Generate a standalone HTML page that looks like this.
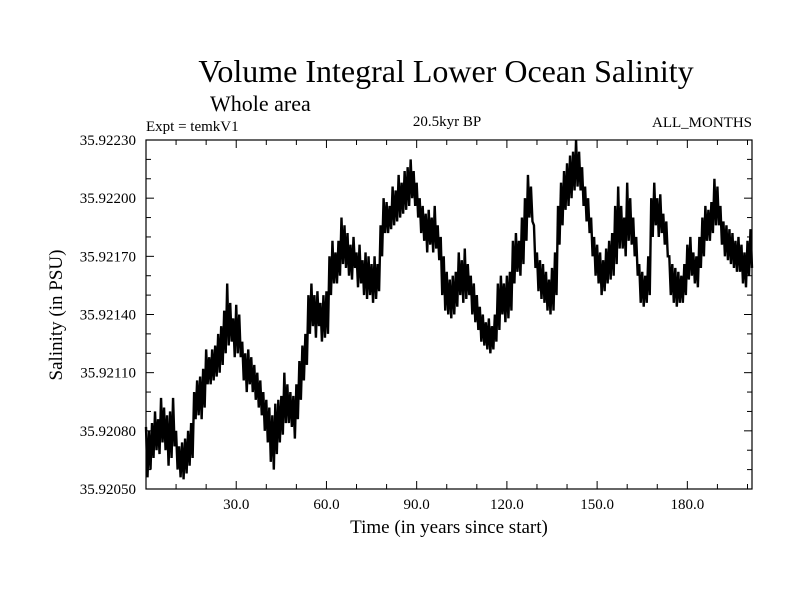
<!DOCTYPE html>
<html><head><meta charset="utf-8"><style>
body{margin:0;background:#fff}
svg text{font-family:"Liberation Serif",serif;fill:#000}
</style></head><body>
<svg id="chart" width="800" height="600">
<rect width="800" height="600" fill="#fff"/>
<text x="446" y="82" font-size="32" text-anchor="middle">Volume Integral Lower Ocean Salinity</text>
<text x="210" y="111" font-size="22">Whole area</text>
<text x="146" y="131" font-size="15">Expt = temkV1</text>
<text x="447" y="126" font-size="15" text-anchor="middle">20.5kyr BP</text>
<text x="752" y="127" font-size="15" text-anchor="end">ALL_MONTHS</text>
<text x="449" y="533" font-size="19" text-anchor="middle">Time (in years since start)</text>
<text transform="translate(62,315) rotate(-90)" font-size="19" text-anchor="middle">Salinity (in PSU)</text>
<g id="ticks"></g>
<path id="series" fill="none" stroke="#000" stroke-width="2.4" stroke-linejoin="miter"/>
<rect x="146" y="140" width="606" height="349" fill="none" stroke="#000" stroke-width="1.2"/>
</svg>
<script>
const baseSalinity = 35.92;
const salHiAnom = [82,80,84,90,86,97,92,88,90,97,80,72,74,76,80,84,100,106,108,112,122,118,122,124,130,134,142,156,146,138,145,140,126,120,122,118,114,110,106,100,96,92,88,94,96,98,110,104,100,98,104,116,124,130,150,156,150,152,146,150,152,170,178,172,178,190,186,182,176,180,172,176,168,172,170,166,170,166,186,200,198,196,206,204,212,208,214,216,220,214,208,200,196,192,194,190,196,186,180,170,162,158,160,162,172,168,174,166,160,156,150,144,140,136,138,134,140,156,160,156,160,162,178,182,178,190,200,212,206,186,172,168,166,162,158,164,172,196,208,214,218,222,224,230,224,216,206,200,190,180,176,172,168,174,178,182,196,206,196,190,208,200,190,180,166,162,160,170,200,208,200,202,192,188,170,166,164,162,160,166,176,180,172,170,180,190,196,194,198,210,206,196,188,186,184,182,178,180,176,172,178,184];
const salLoAnom = [56,60,66,70,68,74,70,62,66,72,60,56,55,58,62,66,86,88,86,92,104,104,106,108,110,114,120,124,126,118,120,118,106,100,104,100,96,92,88,80,74,64,60,68,74,78,84,84,82,76,86,96,106,114,130,134,128,134,126,128,130,150,156,156,160,166,164,160,158,164,154,156,150,148,150,146,148,152,170,182,182,184,186,188,190,192,194,196,200,196,190,182,178,172,176,172,174,168,150,142,140,138,140,144,150,146,148,150,140,136,132,126,124,122,120,122,126,132,140,136,138,142,156,162,160,166,178,190,188,164,152,148,146,142,140,142,150,176,186,194,196,200,204,206,204,196,188,182,170,160,156,150,152,156,158,160,166,174,174,170,178,176,170,160,146,144,146,150,180,186,180,182,176,170,150,146,144,146,146,150,158,160,156,154,164,170,178,178,182,186,186,176,170,168,166,164,162,162,156,154,160,164];
const xTickLabels = ["30.0","60.0","90.0","120.0","150.0","180.0"];
const yTickLabels = ["35.92050","35.92080","35.92110","35.92140","35.92170","35.92200","35.92230"];

const X0=146,X1=752,Y0=489,Y1=140, XMAX=201.5, YMIN=35.9205, YMAX=35.9223;
const xs = t => X0 + (t/XMAX)*(X1-X0);
const ys = v => Y0 - (v-YMIN)/(YMAX-YMIN)*(Y0-Y1);
const NS="http://www.w3.org/2000/svg";
const tg=document.getElementById('ticks');
function line(x1,y1,x2,y2){const l=document.createElementNS(NS,'line');l.setAttribute('x1',x1);l.setAttribute('y1',y1);l.setAttribute('x2',x2);l.setAttribute('y2',y2);l.setAttribute('stroke','#000');l.setAttribute('stroke-width','1');


tg.appendChild(l);}
function txt(x,y,s,anchor){const t=document.createElementNS(NS,'text');t.setAttribute('x',x);t.setAttribute('y',y);t.setAttribute('font-size','15');t.setAttribute('text-anchor',anchor);t.textContent=s;


tg.appendChild(t);}
for(let t=10;t<XMAX;t+=10){const x=xs(t);const L=(t%30===0)?8:5;line(x,Y0,x,Y0-L);line(x,Y1,x,Y1+L);}
xTickLabels.forEach(s=>{const x=xs(parseFloat(s));txt(x,509,s,'middle');});
for(let i=0;i<=18;i++){const v=YMIN+i*0.0001;const y=ys(v);const L=(i%3===0)?8:5;line(X0,y,X0+L,y);line(X1,y,X1-L,y);}
yTickLabels.forEach(s=>{const y=ys(parseFloat(s));txt(136,y+5,s,'end');});
let d='';
for(let i=0;i<salHiAnom.length;i++){
  const t=Math.min(i,XMAX);
  const h=baseSalinity+salHiAnom[i]*1e-5, l=baseSalinity+salLoAnom[i]*1e-5;
  d+=(i?'L':'M')+xs(t).toFixed(2)+','+ys(h).toFixed(2)+'L'+xs(Math.min(t+0.5,XMAX)).toFixed(2)+','+ys(l).toFixed(2);
}
document.getElementById('series').setAttribute('d',d);
</script>
</body></html>
